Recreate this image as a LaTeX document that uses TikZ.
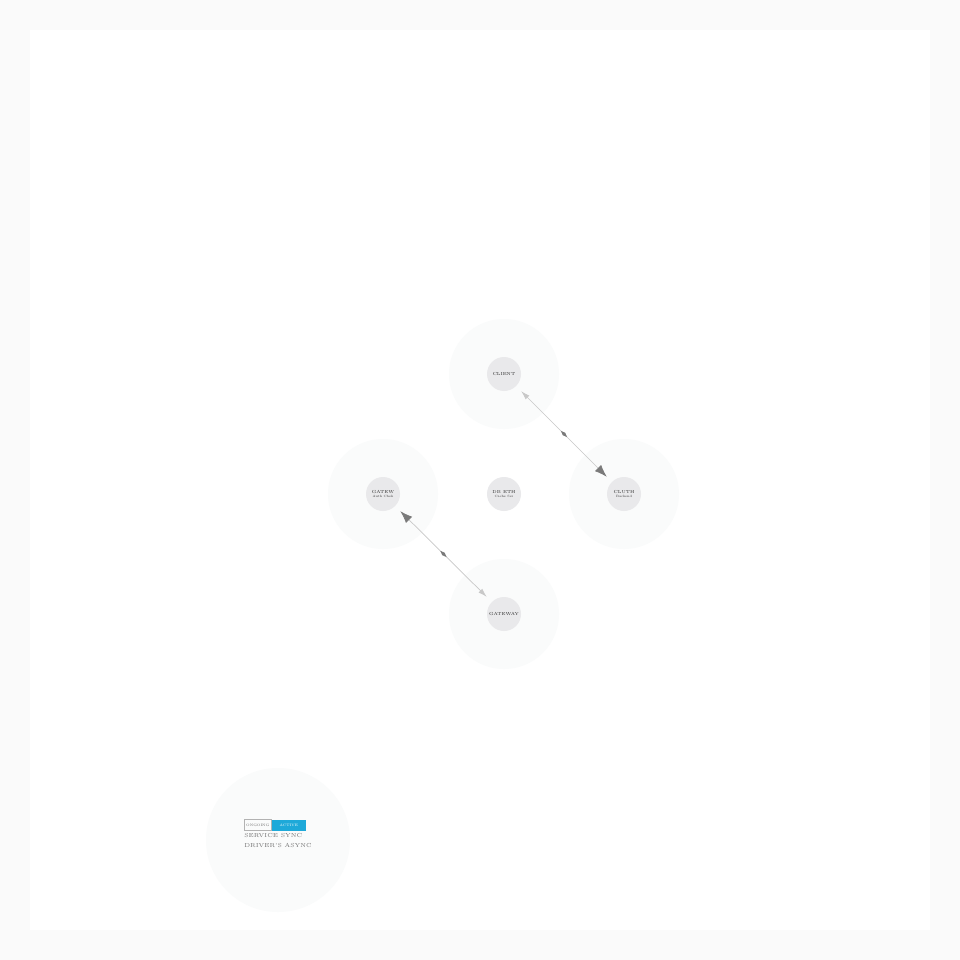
\documentclass[tikz,border=0pt]{standalone}
\usepackage{tikz}
\usetikzlibrary{positioning,arrows.meta,decorations.markings}
\definecolor{bgpaper}{HTML}{FAFAFA}
\definecolor{nodefill}{HTML}{E9E9EB}
\definecolor{halo}{HTML}{FAFBFB}
\definecolor{linkgray}{HTML}{C8C8C8}
\definecolor{tipgray}{HTML}{7A7A7A}
\definecolor{activeblue}{HTML}{1EA9D9}
\tikzstyle{svc}    = [circle, fill=nodefill, minimum size=0.68cm, inner sep=0pt, align=center, text=black!80, font=\fontsize{2.5}{2.8}\selectfont]
\tikzstyle{glow}   = [fill=halo]
\tikzstyle{link}   = [draw=linkgray, line width=0.4pt, shorten <=4pt, shorten >=4pt,
  postaction={decorate, decoration={markings, mark=at position 0.5 with {\fill[tipgray] (-2.5pt,0) -- (0,1pt) -- (2.5pt,0) -- (0,-1pt) -- cycle;}}}]
\tikzstyle{tag}    = [rectangle, minimum height=0.22cm, inner sep=0pt, font=\fontsize{2}{2.2}\selectfont]
\tikzstyle{legtxt} = [anchor=west, inner sep=0pt, text=black!55, font=\fontsize{3.3}{3.6}\selectfont]

\begin{document}
\begin{tikzpicture}[x=0.02cm, y=-0.02cm]
  \useasboundingbox (0,0) rectangle (960,960);
  \fill[bgpaper] (0,0) rectangle (960,960);
  \fill[white] (30,30) rectangle (930,930);

  %soft halos
  \fill[glow] (504,374) circle (55);
  \fill[glow] (383,494) circle (55);
  \fill[glow] (624,494) circle (55);
  \fill[glow] (504,614) circle (55);
  \fill[glow] (278,840) circle (72);
  \fill[white] (504,494) circle (40);

  %services
  \draw (504,374) node[svc] (client) {CLIENT};
  \draw (383,494) node[svc] (gate) {GATEW\\[-0.3pt]{\fontsize{1.8}{2}\selectfont Auth Chek}};
  \draw (504,494) node[svc] (cache) {DB ETH\\[-0.3pt]{\fontsize{1.8}{2}\selectfont Cache Ser}};
  \draw (624,494) node[svc] (cluster) {CLUTH\\[-0.3pt]{\fontsize{1.8}{2}\selectfont Backend}};
  \draw (504,614) node[svc] (worker) {GATEWAY};

  %links
  \draw[link, {Latex[length=5pt,width=3pt,color=linkgray]}-{Latex[length=7pt,width=5pt,color=tipgray]}] (client) -- (cluster);
  \draw[link, {Latex[length=7pt,width=5pt,color=tipgray]}-{Latex[length=5pt,width=3pt,color=linkgray]}] (gate) -- (worker);

  %legend
  \draw (244,825) node[tag, draw=black!30, line width=0.3pt, minimum width=0.54cm, anchor=west, text=black!60] (ongoing) {ONGOING};
  \node[tag, fill=activeblue, minimum width=0.68cm, right=0pt of ongoing, text=white] (active) {ACTIVE};
  \node[legtxt] (sync) at (244,836) {SERVICE SYNC};
  \node[legtxt] (async) at (244,845) {DRIVER'S ASYNC};
\end{tikzpicture}
\end{document}
